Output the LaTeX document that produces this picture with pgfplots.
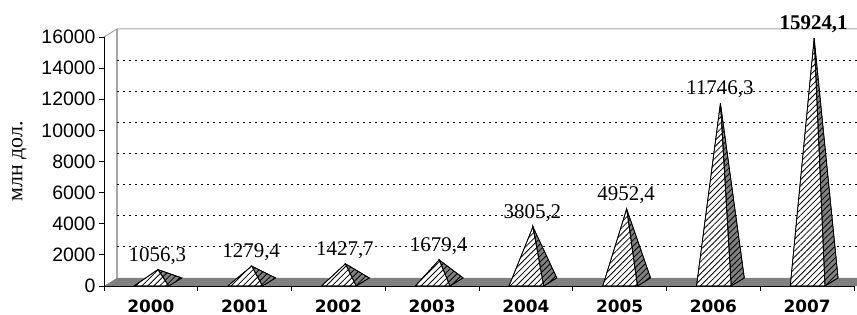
\documentclass[border=0pt]{standalone}
\usepackage{fontspec}
\setmainfont{Liberation Sans}
\newfontfamily\serifx{Liberation Serif}
\newfontfamily\verd{DejaVu Sans}
\usepackage{pgfplots}
\pgfplotsset{compat=1.18}
\usetikzlibrary{patterns.meta}
\definecolor{floorgray}{HTML}{808080}
\definecolor{wallgray}{HTML}{A6A6A6}
\tikzset{hatch/.style={pattern={Lines[angle=45,distance=4.2bp,line width=0.8bp]}, pattern color=black}}
\pgfplotsset{
  frontface/.style={draw=black, line width=0.7bp, fill=white, postaction={hatch}},
  sideface/.style={draw=black, line width=0.7bp, fill=floorgray, postaction={hatch}},
}
\begin{document}
\begin{tikzpicture}
\useasboundingbox (-104bp,-29bp) rectangle (753bp,286bp);
\begin{axis}[
  at={(0,0)}, anchor=south west, scale only axis,
  width=750bp, height=249bp,
  xmin=-0.5, xmax=7.5, ymin=0, ymax=16000,
  clip=false, axis on top,
  axis lines*=left,
  axis line style={black, line width=0.8bp},
  xtick={0,...,7},
  xticklabels={2000,2001,2002,2003,2004,2005,2006,2007},
  major x tick style={draw=none},
  minor xtick={-0.5,0.5,...,7.5},
  minor x tick style={black, line width=0.8bp},
  minor tick length=5bp,
  ytick={0,2000,...,16000},
  scaled y ticks=false,
  major tick length=5bp,
  ytick style={black, line width=0.8bp},
  tick align=outside,
  /pgf/number format/1000 sep={},
  /pgf/number format/assume math mode=true,
  xticklabel style={font=\verd\bfseries\fontsize{17}{17}\selectfont, yshift=-5bp},
  yticklabel style={font=\fontsize{19.5}{19.5}\selectfont},
  ylabel={млн дол.},
  ylabel style={font=\serifx\fontsize{22}{22}\selectfont, at={(axis description cs:-0.113,0.5)}, anchor=center},
  unbounded coords=jump,
]
% floor
\addplot[fill=floorgray, draw=none] coordinates {(-0.5,0) (7.53,0) (7.53,520) (-0.36,520)} -- cycle;
% back walls
\addplot[wallgray, line width=1.5bp] coordinates {(-0.36,520) (-0.36,16520)};
\addplot[wallgray, line width=1bp] coordinates {(-0.5,16000) (-0.36,16520) (7.53,16520)};
% back-wall grid lines
\addplot[black, line width=0.8bp, dash pattern=on 2bp off 4bp] coordinates {
 (-0.36,2520) (7.53,2520) (nan,nan)
 (-0.36,4520) (7.53,4520) (nan,nan)
 (-0.36,6520) (7.53,6520) (nan,nan)
 (-0.36,8520) (7.53,8520) (nan,nan)
 (-0.36,10520) (7.53,10520) (nan,nan)
 (-0.36,12520) (7.53,12520) (nan,nan)
 (-0.36,14520) (7.53,14520)};
% pyramids: side face then front face
\addplot[sideface] coordinates {(0.19,0) (0.075,1056.3) (0.33,520)} -- cycle;
\addplot[frontface] coordinates {(-0.18,0) (0.075,1056.3) (0.19,0)} -- cycle;
\addplot[sideface] coordinates {(1.19,0) (1.075,1279.4) (1.33,520)} -- cycle;
\addplot[frontface] coordinates {(0.82,0) (1.075,1279.4) (1.19,0)} -- cycle;
\addplot[sideface] coordinates {(2.19,0) (2.075,1427.7) (2.33,520)} -- cycle;
\addplot[frontface] coordinates {(1.82,0) (2.075,1427.7) (2.19,0)} -- cycle;
\addplot[sideface] coordinates {(3.19,0) (3.075,1679.4) (3.33,520)} -- cycle;
\addplot[frontface] coordinates {(2.82,0) (3.075,1679.4) (3.19,0)} -- cycle;
\addplot[sideface] coordinates {(4.19,0) (4.075,3805.2) (4.33,520)} -- cycle;
\addplot[frontface] coordinates {(3.82,0) (4.075,3805.2) (4.19,0)} -- cycle;
\addplot[sideface] coordinates {(5.19,0) (5.075,4952.4) (5.33,520)} -- cycle;
\addplot[frontface] coordinates {(4.82,0) (5.075,4952.4) (5.19,0)} -- cycle;
\addplot[sideface] coordinates {(6.19,0) (6.075,11746.3) (6.33,520)} -- cycle;
\addplot[frontface] coordinates {(5.82,0) (6.075,11746.3) (6.19,0)} -- cycle;
\addplot[sideface] coordinates {(7.19,0) (7.075,15924.1) (7.33,520)} -- cycle;
\addplot[frontface] coordinates {(6.82,0) (7.075,15924.1) (7.19,0)} -- cycle;
% data labels
\addplot[draw=none, nodes near coords, point meta=explicit symbolic,
  nodes near coords style={anchor=south, inner sep=0pt, yshift=5bp, font=\serifx\fontsize{21}{21}\selectfont, text=black}]
  coordinates {(0.07,1056.3) [1056,3] (1.07,1279.4) [1279,4] (2.07,1427.7) [1427,7]
   (3.07,1679.4) [1679,4] (4.07,3805.2) [3805,2] (5.07,4952.4) [4952,4] (6.07,11746.3) [11746,3]};
\addplot[draw=none, nodes near coords, point meta=explicit symbolic,
  nodes near coords style={anchor=south, inner sep=0pt, yshift=5bp, font=\serifx\bfseries\fontsize{21}{21}\selectfont, text=black}]
  coordinates {(7.07,15924.1) [15924,1]};
\end{axis}
\end{tikzpicture}
\end{document}
